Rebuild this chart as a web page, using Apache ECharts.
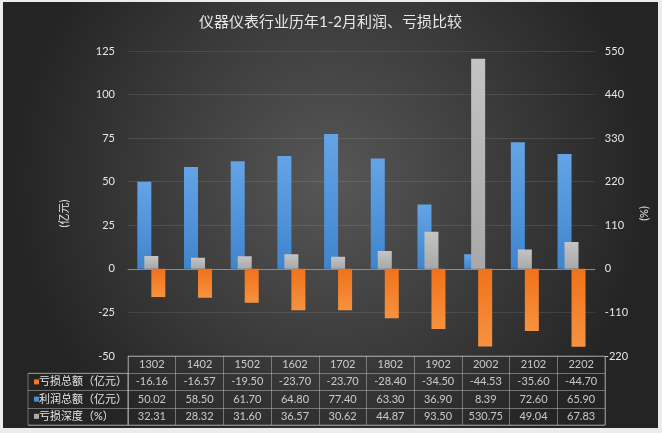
<!DOCTYPE html>
<html>
<head>
<meta charset="utf-8">
<script src="https://cdn.jsdelivr.net/npm/echarts@6/dist/echarts.min.js"></script>
<style>
  html, body { margin: 0; padding: 0; background: #ececec; }
  #chart { position: absolute; left: 3px; top: 2px; width: 655px; height: 426px; }
</style>
</head>
<body>
<div id="chart"></div>
<script>
// data
var years = ['1302', '1402', '1502', '1602', '1702', '1802', '1902', '2002', '2102', '2202'];
var loss = [-16.16, -16.57, -19.50, -23.70, -23.70, -28.40, -34.50, -44.53, -35.60, -44.70];
var profit = [50.02, 58.50, 61.70, 64.80, 77.40, 63.30, 36.90, 8.39, 72.60, 65.90];
var depth = [32.31, 28.32, 31.60, 36.57, 30.62, 44.87, 93.50, 530.75, 49.04, 67.83];
var rowNames = ['亏损总额（亿元）', '利润总额（亿元）', '亏损深度（%）'];
var rowKeys = ['o', 'b', 'g'];

var font = 'Lato, "Noto Sans CJK SC", sans-serif';
var txt = '#e6e6e6';
var tableLine = 'rgba(190,190,190,0.5)';

function grad(c1, c2) {
  return new echarts.graphic.LinearGradient(0, 0, 0, 1, [
    { offset: 0, color: c1 }, { offset: 1, color: c2 }
  ]);
}
var barShadow = { shadowColor: 'rgba(0,0,0,0.45)', shadowBlur: 3, shadowOffsetX: 1, shadowOffsetY: 1 };

// table cells: header row + three value rows
var cells = [];
years.forEach(function (y, i) {
  cells.push([i, 0, y]);
  cells.push([i, 1, loss[i].toFixed(2)]);
  cells.push([i, 2, profit[i].toFixed(2)]);
  cells.push([i, 3, depth[i].toFixed(2)]);
});

var chart = echarts.init(document.getElementById('chart'));
var option = {
  backgroundColor: {
    type: 'radial', x: 0.5, y: 0.42, r: 0.75,
    colorStops: [{ offset: 0, color: '#575757' }, { offset: 1, color: '#242424' }]
  },
  textStyle: { fontFamily: font },
  title: {
    text: '仪器仪表行业历年1-2月利润、亏损比较',
    left: 'center', top: 8,
    textStyle: { color: '#e8e8e8', fontSize: 15, fontWeight: 'normal', fontFamily: font }
  },
  grid: [
    { left: 125, right: 53, top: 49, bottom: 72 },
    { left: 125, right: 53, top: 354, height: 69, show: true, borderColor: tableLine, borderWidth: 1 },
    { left: 25, width: 100, top: 371.25, height: 51.75, show: true, borderColor: tableLine, borderWidth: 1 }
  ],
  xAxis: [
    { type: 'category', gridIndex: 0, data: years,
      axisLine: { onZero: true, lineStyle: { color: '#8c8c8c' } },
      axisTick: { show: false }, axisLabel: { show: false } },
    { type: 'category', gridIndex: 0, data: years, show: false },
    { type: 'category', gridIndex: 1, data: years, show: true,
      axisLine: { show: false }, axisTick: { show: false }, axisLabel: { show: false },
      splitLine: { show: true, interval: 0, lineStyle: { color: tableLine } } },
    { type: 'category', gridIndex: 2, data: [''], show: false }
  ],
  yAxis: [
    { type: 'value', gridIndex: 0, min: -50, max: 125, interval: 25,
      name: '(亿元)', nameLocation: 'middle', nameRotate: 90, nameGap: 58,
      nameTextStyle: { color: txt, fontSize: 11, fontFamily: font, padding: [0, 20, 0, 0] },
      axisLine: { show: false }, axisTick: { show: false },
      axisLabel: { color: txt, fontSize: 11, margin: 13 },
      splitLine: { lineStyle: { color: 'rgba(255,255,255,0.1)' } } },
    { type: 'value', gridIndex: 0, min: -220, max: 550, interval: 110,
      name: '(%)', nameLocation: 'middle', nameRotate: 90, nameGap: 26,
      nameTextStyle: { color: txt, fontSize: 11, fontFamily: font, padding: [0, 20, 0, 0] },
      axisLine: { show: false }, axisTick: { show: false },
      axisLabel: { color: txt, fontSize: 11, margin: 10 },
      splitLine: { show: false } },
    { type: 'category', gridIndex: 1, data: ['h', 'o', 'b', 'g'], inverse: true,
      axisLine: { show: false }, axisTick: { show: false }, axisLabel: { show: false },
      splitLine: { show: true, interval: 0, lineStyle: { color: tableLine } } },
    { type: 'category', gridIndex: 2, data: rowKeys, inverse: true,
      axisLine: { show: false }, axisTick: { show: false },
      splitLine: { show: true, interval: 0, lineStyle: { color: tableLine } },
      axisLabel: {
        inside: true, margin: 6, color: txt, fontSize: 11, fontFamily: font,
        formatter: function (v, i) { return '{' + v + '|}' + rowNames[i]; },
        rich: {
          o: { width: 5, height: 5, backgroundColor: '#f07a22' },
          b: { width: 5, height: 5, backgroundColor: '#4a90d9' },
          g: { width: 5, height: 5, backgroundColor: '#ababab' }
        }
      } }
  ],
  series: [
    { name: '利润总额（亿元）', type: 'bar', xAxisIndex: 0, yAxisIndex: 0, data: profit,
      barWidth: 14, barGap: '0%',
      itemStyle: Object.assign({ color: grad('#64a4e6', '#3f85cd') }, barShadow) },
    { name: '亏损总额（亿元）', type: 'bar', xAxisIndex: 0, yAxisIndex: 0, data: loss,
      barWidth: 14,
      itemStyle: Object.assign({ color: grad('#f0721a', '#f7923f') }, barShadow) },
    { name: '亏损深度（%）', type: 'bar', xAxisIndex: 1, yAxisIndex: 1, data: depth,
      barWidth: 14, z: 3,
      itemStyle: Object.assign({ color: grad('#c4c4c4', '#a8a8a8') }, barShadow) },
    { type: 'scatter', xAxisIndex: 2, yAxisIndex: 2, data: cells, symbolSize: 0,
      silent: true,
      label: { show: true, position: 'inside', color: '#ededed', fontSize: 11, fontFamily: font,
        formatter: function (p) { return p.value[2]; } } }
  ]
};
chart.setOption(option);
</script>
</body>
</html>
